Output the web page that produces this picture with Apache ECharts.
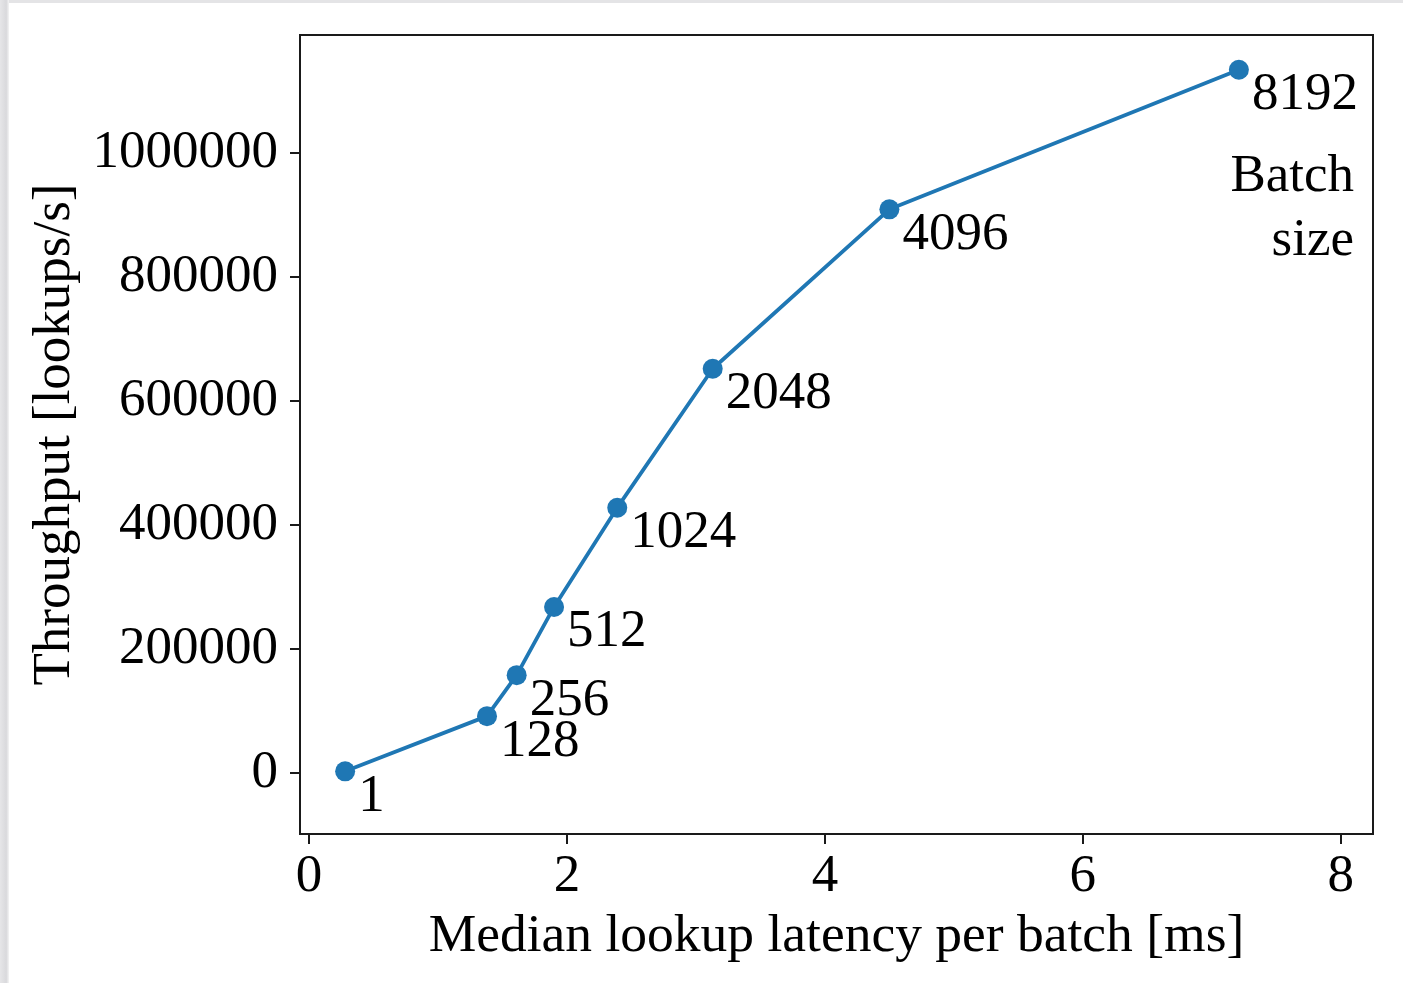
<!DOCTYPE html>
<html>
<head>
<meta charset="utf-8">
<script src="https://cdn.jsdelivr.net/npm/echarts@6/dist/echarts.min.js"></script>
<style>
html,body{margin:0;padding:0;background:#fff;}
#frame{position:absolute;left:0;top:0;width:1403px;height:983px;background:#fff;}
#edgeTop{position:absolute;left:0;top:0;width:1403px;height:3px;background:#e4e4e6;}
#edgeLeft{position:absolute;left:0;top:0;width:9px;height:983px;background:linear-gradient(to right,#e6e6e8,#d9d9dc 70%,#f4f4f4);}
#chart{position:absolute;left:0;top:0;width:1403px;height:983px;}
</style>
</head>
<body>
<div id="frame"></div>
<div id="chart"></div>
<div id="edgeTop"></div>
<div id="edgeLeft"></div>
<script>
const batchSizes = [1, 128, 256, 512, 1024, 2048, 4096, 8192];
const latencyMs = [0.28, 1.38, 1.61, 1.90, 2.39, 3.13, 4.50, 7.21];
const throughput = [3000, 92000, 158000, 268000, 428000, 652000, 909000, 1134000];
const xTicks = [0, 2, 4, 6, 8];
const yTicks = [0, 200000, 400000, 600000, 800000, 1000000];

const FONT = '"Liberation Serif", "DejaVu Serif", serif';
const FS = 53;
const chart = echarts.init(document.getElementById('chart'), null, {renderer: 'canvas'});
const data = latencyMs.map((x, i) => [x, throughput[i]]);

chart.setOption({
  backgroundColor: 'transparent',
  animation: false,
  grid: {left: 300, right: 30, top: 35, bottom: 149, show: true, borderColor: '#1a1a1a', borderWidth: 2, backgroundColor: 'transparent'},
  xAxis: {
    type: 'value', min: -0.07, max: 8.25,
    name: 'Median lookup latency per batch [ms]',
    nameLocation: 'middle', nameGap: 76,
    nameTextStyle: {fontFamily: FONT, fontSize: 53.5, color: '#000'},
    axisLine: {show: true, onZero: false, lineStyle: {color: '#1a1a1a', width: 2}},
    axisTick: {show: true, inside: false, length: 10, lineStyle: {color: '#1a1a1a', width: 2}, customValues: xTicks},
    axisLabel: {fontFamily: FONT, fontSize: FS, color: '#000', margin: 17, customValues: xTicks, formatter: v => String(v)},
    splitLine: {show: false}
  },
  yAxis: {
    type: 'value', min: -98000, max: 1190000,
    name: 'Throughput [lookups/s]',
    nameLocation: 'middle', nameGap: 218, nameRotate: 90,
    nameTextStyle: {fontFamily: FONT, fontSize: FS, color: '#000'},
    axisLine: {show: true, onZero: false, lineStyle: {color: '#1a1a1a', width: 2}},
    axisTick: {show: true, inside: false, length: 10, lineStyle: {color: '#1a1a1a', width: 2}, customValues: yTicks},
    axisLabel: {fontFamily: FONT, fontSize: FS, color: '#000', margin: 22, padding: [5, 0, 0, 0], customValues: yTicks, formatter: v => String(v)},
    splitLine: {show: false}
  },
  series: [{
    type: 'line',
    data: data,
    symbol: 'circle', symbolSize: 20,
    lineStyle: {color: '#1f77b4', width: 3.8},
    itemStyle: {color: '#1f77b4'},
    label: {
      show: true,
      position: 'inside',
      align: 'left', verticalAlign: 'top',
      offset: [13, -1],
      fontFamily: FONT, fontSize: FS, color: '#000',
      formatter: p => String(batchSizes[p.dataIndex])
    },
    z: 3
  }],
  graphic: [
    {type: 'text', right: 49, top: 151, style: {text: 'Batch', font: FS + 'px ' + FONT, fill: '#000', textAlign: 'right'}},
    {type: 'text', right: 49, top: 215, style: {text: 'size', font: FS + 'px ' + FONT, fill: '#000', textAlign: 'right'}}
  ]
});
</script>
</body>
</html>
